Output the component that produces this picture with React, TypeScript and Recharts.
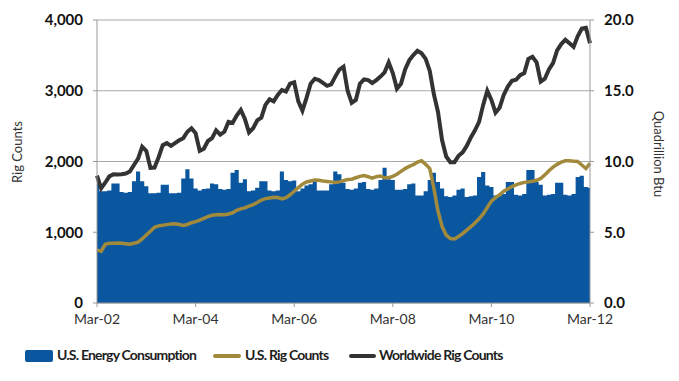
import React from "react";
import {
  ComposedChart, Area, Line, XAxis, YAxis, CartesianGrid,
} from "recharts";

// monthly, Mar-02 .. Mar-12
const MONTHS = ["Jan", "Feb", "Mar", "Apr", "May", "Jun", "Jul", "Aug", "Sep", "Oct", "Nov", "Dec"];

// U.S. energy consumption, quadrillion Btu (right axis)
const ENERGY = [
  8.45, 7.9, 7.9, 7.95, 8.45, 8.45, 7.85, 7.8, 7.85, 8.6, 9.3, 8.6,
  8.25, 7.75, 7.75, 7.8, 8.35, 8.35, 7.75, 7.75, 7.8, 8.8, 9.45, 8.8,
  8.1, 7.95, 8.05, 8.1, 8.45, 8.4, 8.05, 8.0, 8.05, 9.2, 9.4, 8.5,
  8.75, 7.9, 7.95, 8.15, 8.6, 8.6, 7.95, 7.9, 7.95, 9.3, 8.7, 8.6,
  8.65, 7.9, 8.1, 8.3, 8.4, 8.6, 7.95, 7.95, 7.95, 8.4, 9.3, 9.1,
  8.5, 8.05, 8.0, 8.1, 8.5, 8.55, 8.05, 8.0, 8.1, 8.7, 9.55, 8.75,
  8.7, 8.0, 8.0, 8.05, 8.4, 8.45, 7.6, 7.6, 7.9, 8.7, 9.2, 8.55,
  8.1, 7.55, 7.5, 7.6, 8.0, 8.1, 7.5, 7.55, 7.6, 8.9, 9.25, 8.3,
  8.2, 7.6, 7.6, 7.7, 8.55, 8.55, 7.65, 7.6, 7.7, 9.4, 9.4, 8.55,
  8.35, 7.6, 7.65, 7.7, 8.5, 8.5, 7.65, 7.6, 7.7, 8.9, 9.0, 8.2,
  8.15,
];

// U.S. rig counts (left axis)
const US_RIGS = [
  750, 730, 830, 845, 845, 848, 845, 838, 830, 845, 860, 905,
  960, 1015, 1070, 1090, 1100, 1108, 1115, 1120, 1110, 1095, 1110, 1135,
  1150, 1170, 1195, 1220, 1240, 1248, 1250, 1248, 1258, 1275, 1310, 1330,
  1345, 1370, 1390, 1420, 1455, 1475, 1485, 1495, 1490, 1470, 1490, 1530,
  1580, 1630, 1680, 1710, 1725, 1740, 1735, 1725, 1718, 1712, 1705, 1712,
  1730, 1745, 1750, 1770, 1790, 1800, 1785, 1765, 1785, 1795, 1770, 1770,
  1790, 1820, 1860, 1900, 1930, 1955, 1990, 2010, 1960, 1900, 1620, 1300,
  1080, 960, 910, 905, 940, 980, 1030, 1080, 1130, 1190, 1260, 1350,
  1440, 1490, 1530, 1580, 1610, 1645, 1670, 1690, 1705, 1712, 1720, 1735,
  1760, 1810, 1870, 1920, 1960, 1990, 2010, 2010, 2005, 2000, 1950, 1900,
  1975,
];

// Worldwide rig counts (left axis)
const WORLD_RIGS = [
  1800, 1620, 1700, 1790, 1820, 1815, 1820, 1830, 1860, 1950, 2040, 2210,
  2150, 1910, 1915, 2060, 2230, 2260, 2220, 2260, 2300, 2330, 2420, 2470,
  2400, 2150, 2180, 2290, 2330, 2440, 2380, 2420, 2560, 2545, 2650, 2730,
  2600, 2410, 2470, 2580, 2620, 2800, 2880, 2850, 2940, 3010, 2990, 3100,
  3120, 2850, 2720, 2900, 3100, 3170, 3150, 3110, 3070, 3090, 3200, 3300,
  3340, 3000, 2830, 2870, 3100, 3160, 3150, 3110, 3150, 3200, 3260, 3400,
  3250, 3030, 3100, 3300, 3430, 3505, 3565, 3530, 3450, 3280, 2950, 2700,
  2300, 2070, 1990, 1990, 2080, 2130, 2220, 2340, 2440, 2560, 2800, 3000,
  2870, 2690, 2760, 2940, 3060, 3140, 3155, 3220, 3250, 3450, 3480, 3400,
  3130, 3170, 3300, 3390, 3570, 3660, 3720, 3670, 3620, 3770, 3880, 3890,
  3670,
];

const LEFT_TICKS = [0, 1000, 2000, 3000, 4000];
const RIGHT_TICKS = [0, 5, 10, 15, 20];

const BLUE = "#0b579f";
const GOLD = "#a28a3c";
const DARK = "#333333";

const data = ENERGY.map((e, i) => {
  const m = (2 + i) % 12;
  const y = 2 + Math.floor((2 + i) / 12);
  return {
    month: `${MONTHS[m]}-${String(y).padStart(2, "0")}`,
    energy: e,
    us: US_RIGS[i],
    world: WORLD_RIGS[i],
  };
});

const tickFont = { fontSize: 15, fontWeight: 700, fill: "#111", fontFamily: "Lato" };

const legendText: React.CSSProperties = {
  position: "absolute", top: 346, fontSize: 14, fontWeight: 700, color: "#1e1e1e",
  letterSpacing: -0.8, whiteSpace: "nowrap",
};

export default function App() {
  return (
    <div
      style={{
        position: "absolute", left: 0, top: 0, width: 679, height: 381,
        background: "#fff", fontFamily: "Lato",
      }}
    >
      <ComposedChart
        width={679}
        height={335}
        data={data}
        margin={{ top: 20, right: 0, bottom: 2, left: 0 }}
      >
        <CartesianGrid vertical={false} stroke="#a8a8a8" yAxisId="left" />
        <XAxis
          dataKey="month"
          interval={23}
          height={30}
          stroke="#999"
          tickSize={4}
          tick={{ fontSize: 14, fill: "#333", fontFamily: "Lato" }}
          tickMargin={7}
        />
        <YAxis
          yAxisId="left"
          width={97}
          domain={[0, 4000]}
          ticks={LEFT_TICKS}
          stroke="#999"
          tickSize={4}
          tickMargin={10}
          tickFormatter={(v: number) => v.toLocaleString("en-US")}
          tick={tickFont}
        />
        <YAxis
          yAxisId="right"
          orientation="right"
          width={89}
          domain={[0, 20]}
          ticks={RIGHT_TICKS}
          stroke="#999"
          tickSize={4}
          tickMargin={10}
          tickFormatter={(v: number) => v.toFixed(1)}
          tick={{ ...tickFont, textAnchor: "start" }}
        />
        {/* monthly consumption drawn as touching bars (stepped fill) */}
        <Area
          yAxisId="right"
          dataKey="energy"
          type="step"
          fill={BLUE}
          fillOpacity={1}
          stroke="none"
          isAnimationActive={false}
        />
        <Line
          yAxisId="left"
          dataKey="us"
          stroke={GOLD}
          strokeWidth={3.5}
          dot={false}
          type="linear"
          isAnimationActive={false}
        />
        <Line
          yAxisId="left"
          dataKey="world"
          stroke={DARK}
          strokeWidth={4}
          dot={false}
          type="linear"
          isAnimationActive={false}
        />
      </ComposedChart>

      {/* axis titles */}
      <div
        style={{
          position: "absolute", left: 17, top: 152, fontSize: 13, color: "#333",
          transform: "translate(-50%, -50%) rotate(-90deg)", whiteSpace: "nowrap",
        }}
      >
        Rig Counts
      </div>
      <div
        style={{
          position: "absolute", left: 659, top: 154, fontSize: 13, color: "#333",
          transform: "translate(-50%, -50%) rotate(90deg)", whiteSpace: "nowrap",
        }}
      >
        Quadrillion Btu
      </div>

      {/* legend */}
      <div style={{ position: "absolute", left: 25, top: 350, width: 28, height: 12, background: BLUE, borderRadius: 2 }} />
      <span style={{ ...legendText, left: 57 }}>U.S. Energy Consumption</span>
      <div style={{ position: "absolute", left: 213, top: 354, width: 28, height: 4, background: GOLD, borderRadius: 2 }} />
      <span style={{ ...legendText, left: 245 }}>U.S. Rig Counts</span>
      <div style={{ position: "absolute", left: 349, top: 354, width: 27, height: 4, background: DARK, borderRadius: 2 }} />
      <span style={{ ...legendText, left: 379 }}>Worldwide Rig Counts</span>
    </div>
  );
}
